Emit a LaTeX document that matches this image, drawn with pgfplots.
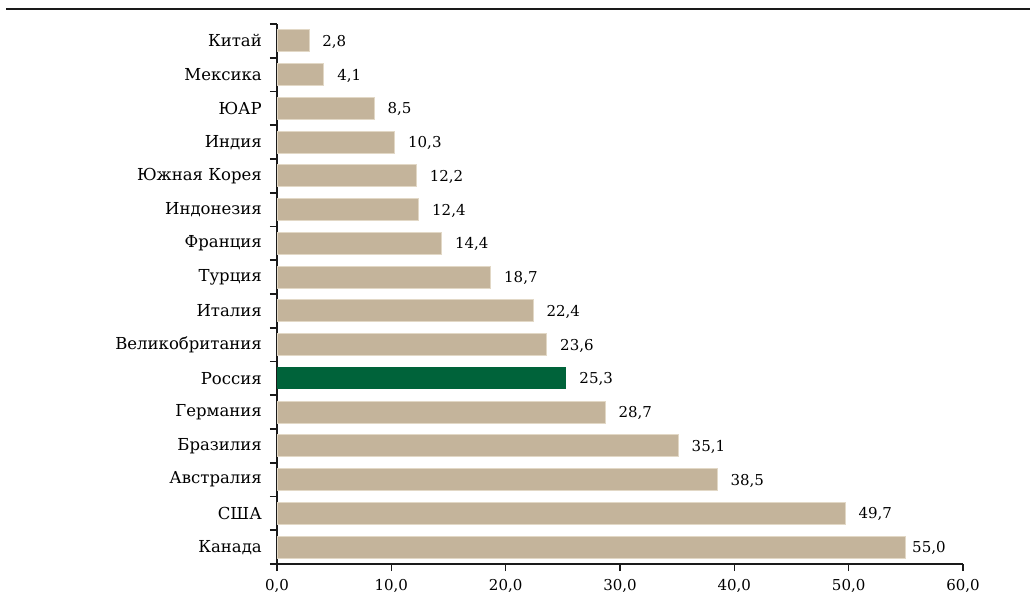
\documentclass[border=0pt]{standalone}
\usepackage{pgfplots}
\pgfplotsset{compat=1.18}
\usepackage{fontspec}
\setmainfont{DejaVu Serif}
\definecolor{tanbar}{HTML}{C4B49B}
\definecolor{tanedge}{HTML}{E2D8C6}
\definecolor{rusgreen}{HTML}{00633A}
\definecolor{axline}{HTML}{1A1A1A}

\begin{document}
\fontsize{15bp}{18bp}\selectfont
\begin{tikzpicture}
\useasboundingbox (0,0) rectangle (1030bp,-599bp);
\draw[axline, line width=1.6bp] (6bp,-9bp) -- (1030bp,-9bp);
\begin{axis}[
  at={(277bp,-564bp)}, anchor=south west,
  scale only axis,
  width=686bp, height=540bp,
  xbar, bar shift=0pt, bar width=22bp,
  xmin=0, xmax=60, ymin=-0.5, ymax=15.5,
  axis x line*=bottom, axis y line*=left,
  axis line style={axline, line width=1.8bp, -},
  xtick={0,10,...,60},
  ytick={-0.5,0.5,...,15.5}, yticklabels={},
  tick align=outside,
  major tick length=7bp,
  tick style={axline, line width=1.6bp},
  extra y ticks={0,...,15},
  extra y tick labels={Канада,США,Австралия,Бразилия,Германия,Россия,Великобритания,Италия,Турция,Франция,Индонезия,Южная Корея,Индия,ЮАР,Мексика,Китай},
  extra y tick style={major tick length=0pt, yticklabel style={xshift=-10bp, font=\fontsize{16.5bp}{18bp}\selectfont}},
  /pgf/number format/assume math mode=true,
  xticklabel style={/pgf/number format/.cd, fixed, fixed zerofill, precision=1, use comma, /tikz/.cd, yshift=-3bp},
  nodes near coords,
  every node near coord/.append style={anchor=west, xshift=8bp, yshift=-1bp, text=black,
    /pgf/number format/.cd, fixed, fixed zerofill, precision=1, use comma, /tikz/.cd},
  clip=false,
]
\addplot[draw=tanedge, line width=0.8bp, fill=tanbar] coordinates {
(49.7,1) (38.5,2) (35.1,3) (28.7,4) (23.6,6) (22.4,7) (18.7,8)
(14.4,9) (12.4,10) (12.2,11) (10.3,12) (8.5,13) (4.1,14) (2.8,15)
};
\addplot[draw=tanedge, line width=0.8bp, fill=tanbar, every node near coord/.append style={xshift=-7bp}] coordinates {(55.0,0)};
\addplot[draw=none, fill=rusgreen] coordinates {(25.3,5)};
\end{axis}
\end{tikzpicture}
\end{document}
